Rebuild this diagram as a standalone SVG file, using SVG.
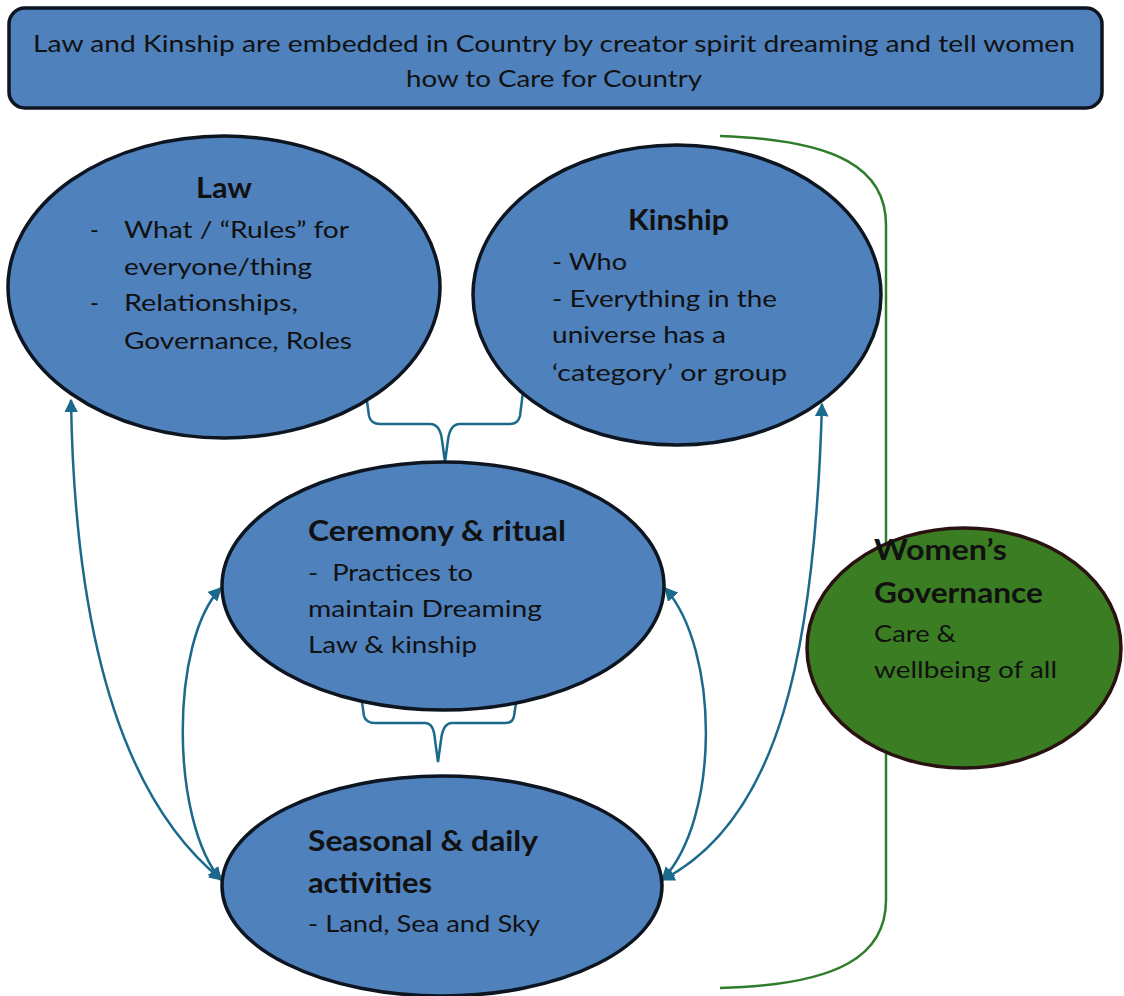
<svg xmlns="http://www.w3.org/2000/svg" width="1124" height="996" viewBox="0 0 1124 996">
<defs>
<style>
.node{fill:#4F81BD;stroke:#0d1520;stroke-width:3.5}
.green{fill:#3B7D23;stroke:#2a1212;stroke-width:3.5}
.t{font-family:Lato,"Open Sans","Liberation Sans",sans-serif;font-size:24px;fill:#111;white-space:pre}
.h{font-family:Lato,"Open Sans","Liberation Sans",sans-serif;font-size:28px;font-weight:bold;fill:#111}
.c{fill:none;stroke:#1B6A8C;stroke-width:2.5}
.br{fill:none;stroke:#1B6A8C;stroke-width:2.5}
.gb{fill:none;stroke:#2E7D2A;stroke-width:2.5}
</style>
<marker id="ah" viewBox="0 0 10 10" refX="9" refY="5" markerWidth="5.5" markerHeight="5.5" orient="auto-start-reverse" markerUnits="strokeWidth">
<path d="M0,0 L10,5 L0,10 z" fill="#1B6A8C"/>
</marker>
</defs>
<rect width="1124" height="996" fill="#fff"/>

<g id="title">
<rect class="node" x="9" y="8" width="1093" height="100" rx="16"/>
<text class="t" x="33" y="52" textLength="1042" lengthAdjust="spacingAndGlyphs">Law and Kinship are embedded in Country by creator spirit dreaming and tell women</text>
<text class="t" x="406" y="87" textLength="296" lengthAdjust="spacingAndGlyphs">how to Care for Country</text>
</g>

<g id="connectors">
<path class="gb" d="M720,136 C840,140 886,170 886,225 L886,900 C886,955 840,985 720,988"/>
<path class="br" d="M367,401 L369,416 Q371,424 380,424 L430,424 Q440,424 442,440 L445,462 L448,440 Q450,424 460,424 L510,424 Q518,424 520,416 L523,392"/>
<path class="br" d="M362,702 L364,716 Q366,723 375,723 L425,723 Q434,723 435,740 L438,762 L441,740 Q443,723 452,723 L505,723 Q513,723 514,716 L516,703"/>
<path class="c" d="M71,400 C74,600 110,790 222,880" marker-start="url(#ah)" marker-end="url(#ah)"/>
<path class="c" d="M221,588 C170,640 170,820 221,880" marker-start="url(#ah)" marker-end="url(#ah)"/>
<path class="c" d="M665,588 C720,650 720,820 662,880" marker-start="url(#ah)" marker-end="url(#ah)"/>
<path class="c" d="M822,404 C815,650 780,820 662,880" marker-start="url(#ah)" marker-end="url(#ah)"/>
</g>

<g id="law">
<ellipse class="node" cx="224" cy="287" rx="216" ry="151"/>
<text class="h" x="196" y="198" textLength="56" lengthAdjust="spacingAndGlyphs">Law</text>
<text class="t" x="90" y="238">-</text>
<text class="t" x="124" y="238" textLength="225" lengthAdjust="spacingAndGlyphs">What / “Rules” for</text>
<text class="t" x="124" y="275" textLength="188" lengthAdjust="spacingAndGlyphs">everyone/thing</text>
<text class="t" x="90" y="311">-</text>
<text class="t" x="124" y="311" textLength="174" lengthAdjust="spacingAndGlyphs">Relationships,</text>
<text class="t" x="124" y="349" textLength="228" lengthAdjust="spacingAndGlyphs">Governance, Roles</text>
</g>

<g id="kinship">
<ellipse class="node" cx="677" cy="295" rx="204" ry="150"/>
<text class="h" x="628" y="230" textLength="101" lengthAdjust="spacingAndGlyphs">Kinship</text>
<text class="t" x="552" y="270" textLength="75" lengthAdjust="spacingAndGlyphs">- Who</text>
<text class="t" x="552" y="307" textLength="225" lengthAdjust="spacingAndGlyphs">- Everything in the</text>
<text class="t" x="552" y="343" textLength="174" lengthAdjust="spacingAndGlyphs">universe has a</text>
<text class="t" x="552" y="381" textLength="235" lengthAdjust="spacingAndGlyphs">‘category’ or group</text>
</g>

<g id="ceremony">
<ellipse class="node" cx="443" cy="586" rx="221" ry="124"/>
<text class="h" x="308" y="541" textLength="258" lengthAdjust="spacingAndGlyphs">Ceremony &amp; ritual</text>
<text class="t" x="308" y="581" textLength="165" lengthAdjust="spacingAndGlyphs">-  Practices to</text>
<text class="t" x="308" y="617" textLength="234" lengthAdjust="spacingAndGlyphs">maintain Dreaming</text>
<text class="t" x="308" y="653" textLength="169" lengthAdjust="spacingAndGlyphs">Law &amp; kinship</text>
</g>

<g id="seasonal">
<ellipse class="node" cx="442" cy="886" rx="220" ry="110"/>
<text class="h" x="308" y="851" textLength="230" lengthAdjust="spacingAndGlyphs">Seasonal &amp; daily</text>
<text class="h" x="308" y="893" textLength="124" lengthAdjust="spacingAndGlyphs">activities</text>
<text class="t" x="308" y="932" textLength="232" lengthAdjust="spacingAndGlyphs">- Land, Sea and Sky</text>
</g>

<g id="womens">
<ellipse class="green" cx="964" cy="648" rx="157" ry="120"/>
<text class="h" x="874" y="560" textLength="133" lengthAdjust="spacingAndGlyphs">Women’s</text>
<text class="h" x="874" y="603" textLength="169" lengthAdjust="spacingAndGlyphs">Governance</text>
<text class="t" x="874" y="642" textLength="82" lengthAdjust="spacingAndGlyphs">Care &amp;</text>
<text class="t" x="874" y="678" textLength="183" lengthAdjust="spacingAndGlyphs">wellbeing of all</text>
</g>
</svg>
